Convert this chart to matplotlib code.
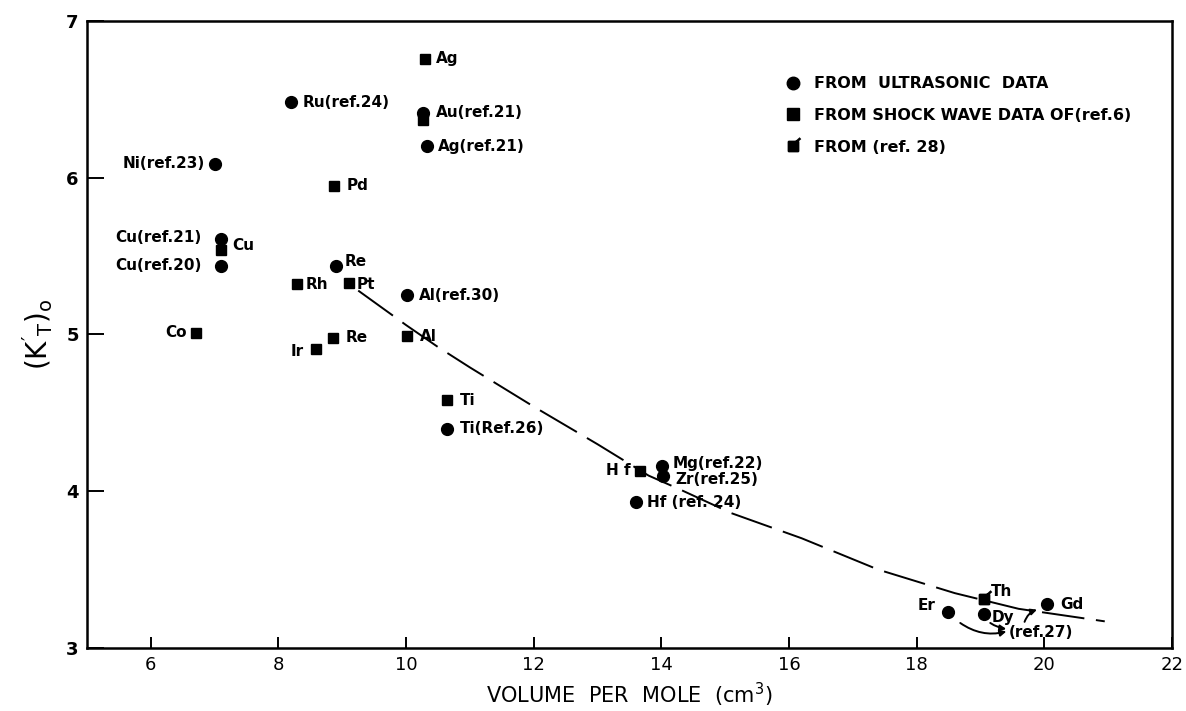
import matplotlib
matplotlib.use("Agg")
import matplotlib.pyplot as plt
from matplotlib.path import Path
from matplotlib.lines import Line2D

# ---- data ----
ultra_labels = ["Ni(ref.23)", "Ru(ref.24)", "Au(ref.21)", "Ag(ref.21)", "Cu(ref.21)",
                "Cu(ref.20)", "Re", "Al(ref.30)", "Ti(Ref.26)", "Mg(ref.22)",
                "Zr(ref.25)", "Hf (ref. 24)", "Er", "Dy", "Gd"]
ultra_v = [7.0, 8.2, 10.27, 10.33, 7.1, 7.1, 8.9, 10.02, 10.64, 14.01, 14.03, 13.6, 18.5, 19.05, 20.05]
ultra_k = [6.09, 6.48, 6.41, 6.20, 5.61, 5.44, 5.44, 5.25, 4.40, 4.16, 4.10, 3.93, 3.23, 3.22, 3.28]

shock_labels = ["Ag", "Au", "Pd", "Cu", "Rh", "Pt", "Co", "Ir", "Re", "Al", "Ti", "H f"]
shock_v = [10.3, 10.27, 8.87, 7.1, 8.29, 9.1, 6.71, 8.59, 8.86, 10.02, 10.64, 13.67]
shock_k = [6.76, 6.37, 5.95, 5.54, 5.32, 5.33, 5.01, 4.91, 4.98, 4.99, 4.58, 4.13]

ref28_labels = ["Th"]
ref28_v = [19.05]
ref28_k = [3.31]

curve_v = [9.25, 10.0, 10.5, 11.0, 12.0, 13.0, 13.8, 14.3, 15.1, 16.2, 17.4, 18.6, 19.6, 20.95]
curve_k = [5.28, 5.06, 4.92, 4.79, 4.54, 4.30, 4.10, 4.01, 3.86, 3.70, 3.50, 3.35, 3.25, 3.17]

xticks = [6, 8, 10, 12, 14, 16, 18, 20, 22]
yticks = [3, 4, 5, 6, 7]

# ---- label placement (offsets in points, ha) ----
ultra_pos = {
    "Ni(ref.23)": (-7, 0, "right"), "Ru(ref.24)": (8, 0, "left"),
    "Au(ref.21)": (9, 1, "left"), "Ag(ref.21)": (8, 0, "left"),
    "Cu(ref.21)": (-14, 1, "right"), "Cu(ref.20)": (-14, 0, "right"),
    "Re": (6, 3, "left"), "Al(ref.30)": (8, 0, "left"),
    "Ti(Ref.26)": (9, 0, "left"), "Mg(ref.22)": (8, 2, "left"),
    "Zr(ref.25)": (9, -3, "left"), "Hf (ref. 24)": (8, 0, "left"),
    "Er": (-9, 5, "right"), "Dy": (6, -3, "left"), "Gd": (9, 0, "left"),
}
shock_pos = {
    "Ag": (8, 0, "left"), "Au": None, "Pd": (9, 0, "left"), "Cu": (8, 3, "left"),
    "Rh": (6, 0, "left"), "Pt": (6, -1, "left"), "Co": (-7, 0, "right"),
    "Ir": (-9, -2, "right"), "Re": (9, 0, "left"), "Al": (9, 0, "left"),
    "Ti": (9, 0, "left"), "H f": (-7, 0, "right"),
}

fig = plt.figure(figsize=(11.86, 7.11), dpi=100)
ax = fig.add_axes([0.0734, 0.0886, 0.9146, 0.8819])

lab_font = dict(family="DejaVu Sans", fontsize=11, fontweight="bold", color="black")

# dashed curve
ax.plot(curve_v, curve_k, color="black", lw=1.4, dashes=(22, 6))

# markers
ax.plot(ultra_v, ultra_k, "o", color="black", ms=8.5, ls="none")
ax.plot(shock_v, shock_k, "s", color="black", ms=7.5, ls="none")

flag = Path([(-1, -1), (1, -1), (1, 1), (-1, 1), (-1, -1), (0.6, 1.0), (1.5, 1.8)],
            [Path.MOVETO, Path.LINETO, Path.LINETO, Path.LINETO, Path.CLOSEPOLY,
             Path.MOVETO, Path.LINETO])
ax.plot(ref28_v, ref28_k, marker=flag, color="black", ms=12, ls="none", mew=1.8)

for lab, v, k in zip(ultra_labels, ultra_v, ultra_k):
    dx, dy, ha = ultra_pos[lab]
    ax.annotate(lab, (v, k), xytext=(dx, dy), textcoords="offset points",
                ha=ha, va="center", **lab_font)
for lab, v, k in zip(shock_labels, shock_v, shock_k):
    p = shock_pos[lab]
    if p is None:
        continue
    dx, dy, ha = p
    ax.annotate(lab, (v, k), xytext=(dx, dy), textcoords="offset points",
                ha=ha, va="center", **lab_font)
for lab, v, k in zip(ref28_labels, ref28_v, ref28_k):
    ax.annotate(lab, (v, k), xytext=(5, 6), textcoords="offset points",
                ha="left", va="center", **lab_font)

# (ref.27) annotation with curved arrows
ax.text(19.45, 3.10, "(ref.27)", ha="left", va="center", **lab_font)
arrow_kw = dict(arrowstyle="-|>", color="black", lw=1.4, mutation_scale=9)
ax.annotate("", xy=(19.45, 3.11), xytext=(18.65, 3.17),
            arrowprops=dict(connectionstyle="arc3,rad=0.25", **arrow_kw))
ax.annotate("", xy=(19.45, 3.12), xytext=(19.12, 3.17),
            arrowprops=dict(connectionstyle="arc3,rad=0.15", **arrow_kw))
ax.annotate("", xy=(19.93, 3.25), xytext=(19.68, 3.15),
            arrowprops=dict(connectionstyle="arc3,rad=-0.3", **arrow_kw))

# legend
handles = [
    Line2D([], [], marker="o", color="black", ls="none", ms=9),
    Line2D([], [], marker="s", color="black", ls="none", ms=8),
    Line2D([], [], marker=flag, color="black", ls="none", ms=12, mew=1.8),
]
labels = ["FROM  ULTRASONIC  DATA", "FROM SHOCK WAVE DATA OF(ref.6)", "FROM (ref. 28)"]
ax.legend(handles, labels, loc="upper left", bbox_to_anchor=(0.63, 0.935),
          frameon=False, handlelength=1.0, handletextpad=0.8, labelspacing=1.05,
          prop=dict(family="DejaVu Sans", size=11.5, weight="bold"))

# axes
ax.set_xlim(5, 22)
ax.set_ylim(3, 7)
ax.set_xticks(xticks)
ax.set_yticks(yticks)
ax.tick_params(axis="x", direction="in", length=8, width=1.4, labelsize=13, pad=6)
ax.tick_params(axis="y", direction="in", length=12, width=1.4, labelsize=13, pad=6)
for t in ax.get_yticklabels():
    t.set_fontweight("bold")
for s in ax.spines.values():
    s.set_linewidth(1.8)

ax.set_xlabel("VOLUME  PER  MOLE  (cm$^\\mathregular{3}$)", fontsize=15, labelpad=5)
ax.set_ylabel(r"$(\mathregular{K'_T})_\mathregular{o}$", fontsize=20, labelpad=8)

fig.savefig("out.png", dpi=100)
